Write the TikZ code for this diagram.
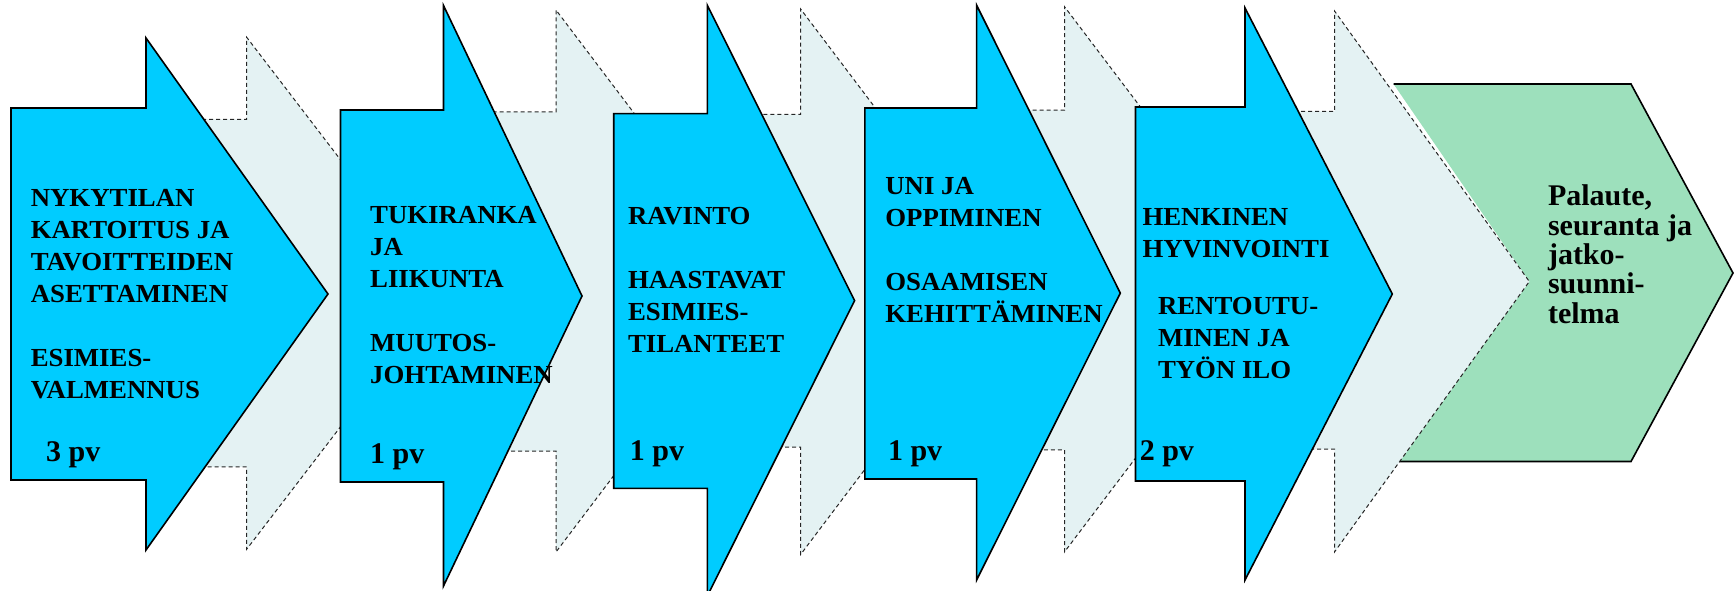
\documentclass[tikz,border=0pt]{standalone}
\usepackage{fontspec}
\setmainfont{Liberation Serif}
\newfontfamily\capsfont[FakeStretch=1.03]{Liberation Serif}
\definecolor{arrowblue}{HTML}{00CCFF}
\definecolor{ghostfill}{HTML}{E4F2F3}
\definecolor{chevgreen}{HTML}{9DE0BC}
\tikzset{
  bluearrow/.style={fill=arrowblue, draw=black, line width=1.6pt, line join=miter},
  ghost/.style={fill=ghostfill, draw=black!85, dash pattern=on 4pt off 3pt, line width=1pt},
  greenfill/.style={fill=chevgreen},
  greenline/.style={draw=black, line width=1.6pt, line join=miter},
  lbl/.style={anchor=base west, inner sep=0pt, font=\capsfont\bfseries\fontsize{26}{32.1}\selectfont},
  days/.style={anchor=base west, inner sep=0pt, font=\bfseries\fontsize{30}{34}\selectfont},
  glbl/.style={anchor=base west, inner sep=0pt, font=\bfseries\fontsize{30}{28.7}\selectfont},
}
\newcommand{\rows}[1]{\begin{tabular}[t]{@{}l@{}}#1\end{tabular}}
\begin{document}
\begin{tikzpicture}[x=1pt,y=-1pt]
\useasboundingbox (0,0) rectangle (1735,591);

% green chevron (its notch lies under the last ghost arrow)
\path[greenfill] (1393.5,84) -- (1631,84) -- (1733,273) -- (1631,461.5) -- (1399,461.5) -- (1529.3,281.5) -- cycle;
\draw[greenline] (1393.5,84) -- (1631,84) -- (1733,273) -- (1631,461.5) -- (1399,461.5);

% ghost (shadow) arrows
\draw[ghost] (146,119.3) -- (246.7,119.3) -- (246.7,37.3) -- (442.8,293.3) -- (246.7,549.2) -- (246.7,466.9) -- (146,466.9) -- cycle;
\draw[ghost] (443.5,112) -- (556,112) -- (556,10) -- (761,281) -- (556,552) -- (556,451) -- (443.5,451) -- cycle;
\draw[ghost] (707.3,114.4) -- (800.6,114.4) -- (800.6,9) -- (1006.6,281.8) -- (800.6,554.5) -- (800.6,447.2) -- (707.3,447.2) -- cycle;
\draw[ghost] (976.6,110.2) -- (1064.5,110.2) -- (1064.5,6.7) -- (1270.9,279.3) -- (1064.5,551.9) -- (1064.5,449.9) -- (976.6,449.9) -- cycle;
\draw[ghost] (1245,111.5) -- (1334.5,111.5) -- (1334.5,11) -- (1529.3,281.5) -- (1334.5,552) -- (1334.5,449) -- (1245,449) -- cycle;

% blue arrows
\draw[bluearrow] (11,108) -- (146,108) -- (146,38) -- (328,294) -- (146,550) -- (146,480) -- (11,480) -- cycle;
\draw[bluearrow] (340.5,110) -- (443.5,110) -- (443.5,5.5) -- (582,296) -- (443.5,586) -- (443.5,482) -- (340.5,482) -- cycle;
\draw[bluearrow] (613.7,113.6) -- (707.3,113.6) -- (707.3,5.2) -- (854.6,300.6) -- (707.3,596) -- (707.3,488.4) -- (613.7,488.4) -- cycle;
\draw[bluearrow] (864.9,108) -- (976.6,108) -- (976.6,5.2) -- (1120.3,293.1) -- (976.6,580) -- (976.6,479) -- (864.9,479) -- cycle;
\draw[bluearrow] (1135.5,107) -- (1245,107) -- (1245,8) -- (1392.3,294) -- (1245,580) -- (1245,481) -- (1135.5,481) -- cycle;

% texts
\node[lbl] (t1) at (30.6,206.2) {\rows{NYKYTILAN\\KARTOITUS JA\\TAVOITTEIDEN\\ASETTAMINEN\\ \\ESIMIES-\\VALMENNUS}};
\node[days] (d1) at (46,461.2) {3 pv};

\node[lbl] (t2) at (370,223.2) {\rows{TUKIRANKA\\JA\\LIIKUNTA\\ \\MUUTOS-\\JOHTAMINEN}};
\node[days] (d2) at (370,463.1) {1 pv};

\node[lbl] (t3) at (627.8,224.3) {\rows{RAVINTO\\ \\HAASTAVAT\\ESIMIES-\\TILANTEET}};
\node[days] (d3) at (629.7,460) {1 pv};

\node[lbl] (t4) at (885.2,194.1) {\rows{UNI JA\\OPPIMINEN\\ \\OSAAMISEN\\KEHITTÄMINEN}};
\node[days] (d4) at (887.8,460) {1 pv};

\node[lbl] (t5a) at (1142.3,225.6) {\rows{HENKINEN\\HYVINVOINTI}};
\node[lbl] (t5b) at (1157.8,314) {\rows{RENTOUTU-\\MINEN JA\\TYÖN ILO}};
\node[days] (d5) at (1139.6,460.4) {2 pv};

\node[glbl] (t6) at (1547.8,205.6) {\rows{Palaute,\\seuranta ja\\jatko-\\suunni-\\telma}};
\end{tikzpicture}
\end{document}
